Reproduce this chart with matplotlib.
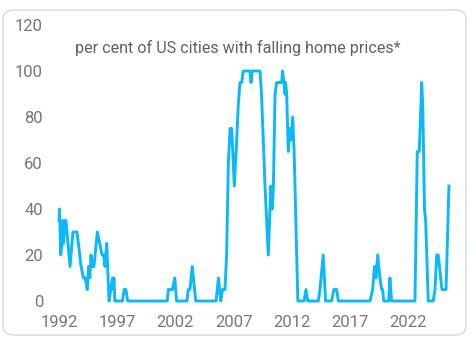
import matplotlib
matplotlib.use("Agg")
import matplotlib.pyplot as plt
from matplotlib.patches import FancyBboxPatch

# share of the 20 US cities with falling home prices (%), breakpoints by decimal year
years = [
    1992.0, 1992.05, 1992.15, 1992.25, 1992.3, 1992.4, 1992.5, 1992.6, 1992.95,
    1993.2, 1993.55, 1993.9, 1994.1, 1994.25, 1994.43, 1994.55, 1994.65, 1994.75,
    1994.85, 1995.0, 1995.3, 1995.5, 1995.7, 1995.85, 1995.95, 1996.1, 1996.3,
    1996.45, 1996.6, 1996.65, 1996.72, 1996.8, 1997.45, 1997.6, 1997.75, 1997.9,
    2001.3, 2001.4, 2001.75, 2001.95, 2002.1, 2003.0, 2003.1, 2003.25, 2003.45,
    2003.75, 2005.5, 2005.7, 2005.9, 2006.05, 2006.26, 2006.4, 2006.55, 2006.7,
    2006.84, 2007.06, 2007.27, 2007.4, 2007.55, 2007.7, 2007.83, 2008.4, 2008.5,
    2008.6, 2009.27, 2009.4, 2009.7, 2009.98, 2010.13, 2010.2, 2010.33, 2010.42,
    2010.56, 2010.7, 2011.13, 2011.2, 2011.33, 2011.42, 2011.47, 2011.56, 2011.7,
    2011.84, 2011.93, 2012.08, 2012.2, 2012.52, 2013.05, 2013.22, 2013.37,
    2014.28, 2014.42, 2014.7, 2014.9, 2015.42, 2015.62, 2015.85, 2016.0,
    2018.72, 2018.95, 2019.1, 2019.23, 2019.38, 2019.57, 2019.72, 2019.8,
    2019.9, 2020.33, 2020.43, 2020.57, 2022.58, 2022.78, 2022.95, 2023.16,
    2023.25, 2023.4, 2023.5, 2023.72, 2024.15, 2024.3, 2024.45, 2024.58,
    2024.9, 2025.25, 2025.5,
]
share = [
    35, 40, 20, 25, 35, 25, 35, 35, 15,
    30, 30, 15, 10, 10, 5, 15, 10, 20,
    15, 15, 30, 25, 20, 20, 15, 25, 0,
    5, 10, 5, 10, 0, 0, 5, 5, 0,
    0, 5, 5, 10, 0, 0, 5, 5, 15,
    0, 0, 10, 0, 5, 5, 20, 60, 75,
    75, 50, 70, 85, 95, 95, 100, 100, 95,
    100, 100, 90, 50, 20, 40, 50, 40, 50,
    90, 95, 95, 100, 95, 90, 95, 90, 65,
    75, 70, 80, 65, 0, 0, 5, 0,
    0, 5, 20, 0, 0, 5, 5, 0,
    0, 5, 15, 10, 20, 10, 5, 5,
    0, 0, 10, 0, 0, 65, 65, 95,
    85, 40, 35, 0, 0, 5, 20, 20,
    5, 5, 50,
]
xticks = [1992, 1997, 2002, 2007, 2012, 2017, 2022]
yticks = [0, 20, 40, 60, 80, 100, 120]
title = "per cent of US cities with falling home prices*"

W, H = 476, 339
fig = plt.figure(figsize=(W / 100, H / 100), dpi=100)
plt.rcParams['font.family'] = ['Roboto', 'DejaVu Sans']

# rounded frame around the whole card, kept behind the axes
card = FancyBboxPatch((3 / W, 4 / H), 463 / W, 325 / H,
                      boxstyle="round,pad=0,rounding_size=0.025",
                      transform=fig.transFigure, facecolor='white',
                      edgecolor='#d3dadd', linewidth=1.0, zorder=-1)
fig.patches.append(card)

ax = fig.add_axes([50 / W, 38 / H, 410 / W, 276 / H])
ax.set_facecolor('none')
ax.plot(years, share, color='#0db8f7', linewidth=2.1, clip_on=False,
        solid_joinstyle='round')

ax.set_xlim(1991.23, 2026.45)
ax.set_ylim(0, 120)
ax.set_xticks(xticks)
ax.set_xticklabels([str(t) for t in xticks])
ax.set_yticks(yticks)
for s in ax.spines.values():
    s.set_visible(False)
ax.tick_params(axis='both', length=0, labelsize=12, labelcolor='#777777')
ax.tick_params(axis='x', pad=10)
ax.tick_params(axis='y', pad=5)

fig.text(238 / W, 1 - 48 / H, title, ha='center', va='center',
         fontsize=11.6, color='#606060')

fig.savefig('out.png', dpi=100)
